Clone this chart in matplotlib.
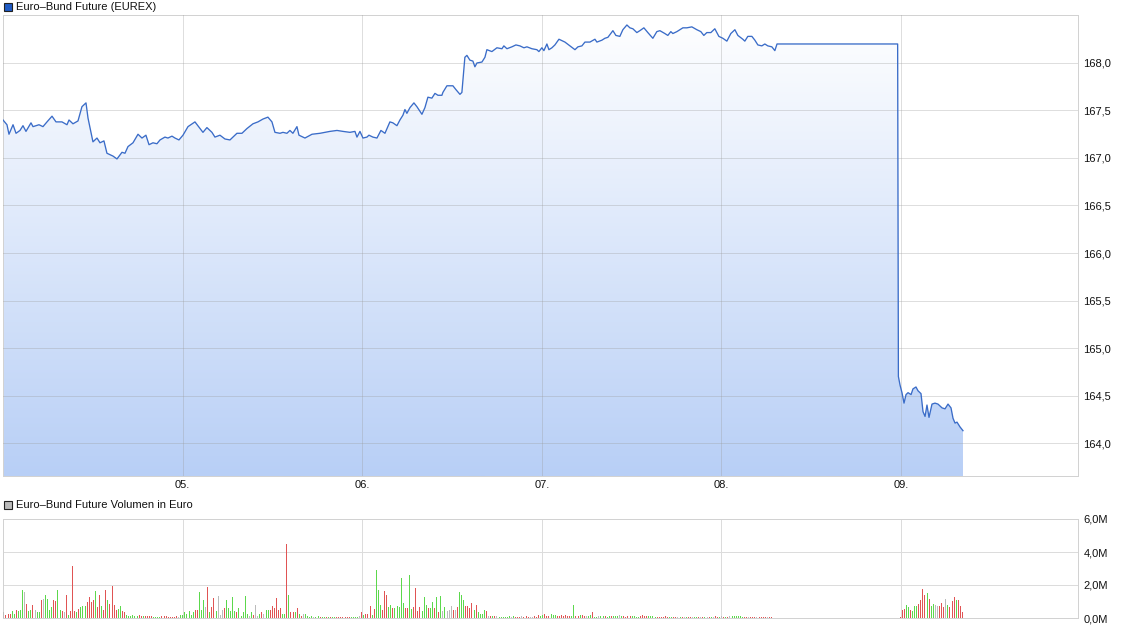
import numpy as np
import matplotlib
matplotlib.use('Agg')
import matplotlib.pyplot as plt
from matplotlib.colors import LinearSegmentedColormap
from matplotlib.patches import Rectangle

plt.rcParams['font.family'] = ['Liberation Sans', 'DejaVu Sans']

# Euro-Bund Future, hours since 04. 00:00
price_hours = [
    0.0, 0.53, 0.80, 1.34, 1.74, 2.27, 2.67, 3.07, 3.74, 4.01,
    4.81, 5.34, 5.88, 6.55, 7.08, 7.88, 8.55, 8.82, 9.35, 10.02,
    10.55, 11.09, 11.36, 12.02, 12.56, 12.96, 13.49, 13.89, 14.70, 15.23,
    15.90, 16.30, 16.70, 17.37, 18.04, 18.57, 19.10, 19.51, 20.04, 20.57,
    20.98, 21.64, 22.04, 22.58, 22.98, 23.51, 24.05, 24.72, 25.65, 26.32,
    26.72, 27.25, 27.92, 28.32, 28.99, 29.66, 30.33, 31.26, 31.93, 32.60,
    33.40, 34.07, 34.74, 35.40, 35.94, 36.34, 37.01, 37.41, 37.94, 38.34,
    38.74, 39.28, 39.55, 40.35, 41.29, 42.36, 43.02, 43.69, 44.63, 45.43,
    46.36, 47.03, 47.30, 47.70, 48.10, 48.63, 48.90, 49.43, 49.97, 50.50,
    51.04, 51.70, 52.10, 52.64, 53.04, 53.44, 53.71, 53.97, 54.38, 54.91,
    55.31, 55.98, 56.38, 56.78, 57.31, 57.72, 58.12, 58.65, 58.78, 59.32,
    60.12, 60.52, 61.06, 61.32, 61.72, 61.99, 62.39, 62.79, 63.06, 63.33,
    64.00, 64.40, 64.66, 65.33, 66.00, 66.67, 66.93, 67.34, 68.00, 68.54,
    69.07, 69.61, 70.01, 70.68, 71.34, 71.61, 72.01, 72.28, 72.68, 72.95,
    73.35, 73.75, 74.29, 75.09, 75.76, 76.43, 76.83, 77.36, 77.76, 78.43,
    79.10, 79.36, 80.03, 80.43, 80.83, 81.50, 81.90, 82.43, 82.83, 83.37,
    83.77, 84.17, 84.70, 85.10, 85.64, 86.17, 86.84, 87.37, 87.78, 88.44,
    88.84, 89.24, 89.51, 90.05, 90.85, 91.38, 92.05, 92.72, 93.25, 93.65,
    94.05, 94.59, 95.12, 95.66, 96.19, 96.73, 97.26, 97.80, 98.20, 98.86,
    99.13, 99.53, 100.07, 100.47, 100.87, 101.40, 101.80, 102.20, 102.74, 103.14,
    103.43, 119.55, 119.65, 119.87, 120.13, 120.40, 120.67, 120.94, 121.34, 121.60,
    122.00, 122.27, 122.67, 122.94, 123.21, 123.47, 123.74, 124.14, 124.54, 124.94,
    125.48, 125.88, 126.28, 126.68, 126.95, 127.22, 127.48, 127.88, 128.28,
]
price_values = [
    167.40, 167.35, 167.25, 167.35, 167.26, 167.29, 167.34, 167.28, 167.37, 167.33,
    167.35, 167.33, 167.38, 167.44, 167.38, 167.38, 167.35, 167.40, 167.36, 167.39,
    167.54, 167.58, 167.42, 167.17, 167.21, 167.16, 167.18, 167.05, 167.02, 166.99,
    167.06, 167.05, 167.12, 167.16, 167.25, 167.21, 167.24, 167.14, 167.16, 167.15,
    167.19, 167.22, 167.21, 167.23, 167.21, 167.19, 167.24, 167.33, 167.38, 167.31,
    167.27, 167.32, 167.27, 167.22, 167.24, 167.20, 167.19, 167.26, 167.26, 167.31,
    167.36, 167.38, 167.41, 167.43, 167.38, 167.27, 167.26, 167.27, 167.26, 167.29,
    167.26, 167.33, 167.24, 167.21, 167.25, 167.26, 167.27, 167.28, 167.29, 167.28,
    167.27, 167.28, 167.22, 167.28, 167.21, 167.22, 167.24, 167.22, 167.21, 167.29,
    167.26, 167.38, 167.37, 167.34, 167.40, 167.45, 167.51, 167.47, 167.53, 167.58,
    167.54, 167.46, 167.53, 167.64, 167.63, 167.68, 167.66, 167.66, 167.69, 167.76,
    167.76, 167.72, 167.67, 167.69, 168.06, 168.08, 168.03, 168.02, 167.96, 168.00,
    168.01, 168.06, 168.14, 168.12, 168.16, 168.15, 168.18, 168.15, 168.17, 168.19,
    168.18, 168.16, 168.17, 168.15, 168.14, 168.12, 168.16, 168.13, 168.20, 168.14,
    168.16, 168.19, 168.25, 168.22, 168.18, 168.14, 168.17, 168.18, 168.22, 168.22,
    168.25, 168.22, 168.24, 168.26, 168.27, 168.34, 168.29, 168.28, 168.35, 168.40,
    168.37, 168.36, 168.32, 168.34, 168.37, 168.32, 168.26, 168.33, 168.34, 168.31,
    168.29, 168.33, 168.31, 168.33, 168.37, 168.37, 168.38, 168.35, 168.33, 168.29,
    168.32, 168.32, 168.36, 168.28, 168.26, 168.23, 168.31, 168.35, 168.29, 168.25,
    168.23, 168.28, 168.28, 168.24, 168.19, 168.18, 168.20, 168.18, 168.17, 168.13,
    168.20, 168.20, 164.70, 164.61, 164.53, 164.42, 164.51, 164.53, 164.51, 164.57,
    164.59, 164.55, 164.52, 164.33, 164.28, 164.40, 164.27, 164.41, 164.42, 164.41,
    164.37, 164.36, 164.41, 164.37, 164.26, 164.21, 164.22, 164.17, 164.13,
]

day_ticks = [24, 48, 72, 96, 120]
day_labels = ['05.', '06.', '07.', '08.', '09.']
price_ticks = [164.0, 164.5, 165.0, 165.5, 166.0, 166.5, 167.0, 167.5, 168.0]
vol_ticks = [0, 2, 4, 6]

# volume in Mio. Euro, direction: u = up, r = down, s = unchanged
vol_a = [
    0.34, 0.2, 0.26, 0.26, 0.4, 0.26, 0.5, 0.4, 0.46, 1.72,
    1.6, 0.87, 0.4, 0.46, 0.8, 0.5, 0.34, 0.34, 1.1, 1.17,
    1.41, 1.17, 0.46, 0.65, 1.1, 1.05, 1.72, 0.46, 0.4, 0.34,
    1.41, 0.2, 0.4, 3.13, 0.4, 0.34, 0.57, 0.65, 0.75, 0.75,
    0.95, 1.25, 1.0, 1.07, 1.66, 0.65, 1.41, 0.75, 0.5, 1.72,
    1.07, 0.87, 1.92, 0.8, 0.5, 0.57, 0.75, 0.44, 0.34, 0.2,
    0.14, 0.14, 0.2, 0.14, 0.14, 0.2, 0.1, 0.1, 0.1, 0.1,
    0.1, 0.1, 0.06, 0.06, 0.06, 0.06, 0.1, 0.1, 0.1, 0.06,
    0.06, 0.06, 0.06, 0.1, 0.06, 0.2, 0.2, 0.34, 0.26,
    0.4, 0.2, 0.34, 0.46, 0.46, 1.55, 0.46, 1.07, 0.65, 1.86,
    0.34, 0.65, 1.21, 0.4, 1.31, 0.2, 0.5, 0.59, 1.07, 0.6,
    0.4, 1.25, 0.4, 0.34, 0.59, 0.14, 0.34, 1.35, 0.26, 0.14,
    0.34, 0.2, 0.8, 0.1, 0.26, 0.38, 0.26, 0.5, 0.5, 0.5,
    0.7, 0.59, 1.19, 0.46, 0.59, 0.26, 0.26, 4.5, 1.41, 0.38,
    0.38, 0.34, 0.59, 0.26, 0.14, 0.26, 0.26, 0.1, 0.06, 0.1,
    0.06, 0.06, 0.1, 0.06, 0.06, 0.06, 0.06, 0.06, 0.06, 0.06,
    0.06, 0.06, 0.06, 0.06, 0.06, 0.06, 0.06, 0.06, 0.06, 0.06,
    0.06, 0.06, 0.1, 0.34, 0.2, 0.26, 0.26, 0.75, 0.2, 0.55,
    2.93, 1.68, 0.8, 0.46, 1.62, 1.41, 0.67, 0.8, 0.6, 0.6,
    0.75, 0.67,
    2.4, 0.9, 0.6, 0.6, 2.6, 0.55, 0.65, 1.8, 0.4, 0.65,
    0.4, 1.25, 0.8, 0.6, 0.6, 0.95, 0.6, 1.25, 0.34, 1.31,
    0.4, 0.65, 0.4, 0.46, 0.75, 0.46, 0.5, 0.65, 1.6, 1.37,
    1.07, 0.7, 0.7, 0.6, 0.88, 0.46, 0.8, 0.34, 0.26, 0.26,
    0.46, 0.4, 0.14, 0.1, 0.1, 0.1, 0.1, 0.06, 0.06, 0.06,
    0.06, 0.06, 0.1, 0.06, 0.1, 0.06, 0.06, 0.06, 0.1, 0.06,
    0.1, 0.06, 0.06, 0.06, 0.1, 0.06, 0.2, 0.14, 0.2, 0.26,
    0.14, 0.1, 0.26, 0.2, 0.2, 0.14, 0.14, 0.2, 0.14, 0.2,
    0.14, 0.1, 0.14, 0.8, 0.1, 0.14, 0.2, 0.2, 0.14, 0.1,
    0.1, 0.2, 0.38, 0.06, 0.06, 0.1, 0.14, 0.14, 0.14, 0.06,
    0.1, 0.1, 0.1, 0.1, 0.1, 0.2, 0.14, 0.1, 0.06, 0.1,
    0.1, 0.1, 0.14, 0.06, 0.06, 0.1, 0.2, 0.14, 0.1, 0.1,
    0.1, 0.1, 0.06, 0.06, 0.06, 0.06, 0.06, 0.1, 0.06, 0.06,
    0.06, 0.06,
    0.06, 0.06, 0.06, 0.06, 0.06, 0.06, 0.06, 0.06, 0.06, 0.06,
    0.06, 0.06, 0.06, 0.06, 0.06, 0.06, 0.06,
    0.06, 0.06, 0.1, 0.06, 0.06, 0.1, 0.06, 0.06, 0.06, 0.1,
    0.1, 0.1, 0.1, 0.14, 0.1, 0.06,
    0.06, 0.06, 0.06, 0.06, 0.06, 0.06, 0.06, 0.06, 0.06, 0.06,
    0.06, 0.06, 0.06, 0.06,
]
dir_a = (
    "srrruuruuu" "sruursuurs" "uuuurruurs" "rurrruruuu" "rrrrurrurr"
    "urrrruurru" "uuuuurrurr" "rruuuurrrr" "rrrrsuuuu"
    "uuurruuusr" "urrusssruu" "uuuruuuuus" "urssursuur" "rrrrruurur"
    "rurursuuuu" "suuruururu" "urrrrrrruu" "uusrurrrur" "uuurrruuru" "uu"
    "uurruurrrr" "uuuruururu" "susssrsruu" "urrrruruuu" "ursrursuuu"
    "uuusurrrsr" "rrssrrruur" "rruuurrrrr" "rruurrurrs" "uuruusuuru"
    "uruuusurrr" "ruuuurrrru" "uuurrrrrru" "ur"
    "rsursurrsuursrusr" "usrrusrurs" "uuuuuu" "rrsrrrsrrrrsrr"
)
vol_b = [
    0.04, 0.46, 0.57, 0.8, 0.65, 0.5, 0.44, 0.75, 0.75, 0.87,
    1.11, 1.78, 1.41, 1.52, 1.17, 0.75, 0.87, 0.8, 0.75, 0.75,
    0.91, 0.65, 1.15, 0.8, 0.65, 1.01, 1.25, 1.11, 1.07, 0.75, 0.34,
]
dir_b = "rrruuruuur" "rrruruussr" "rrsurrrurrr"

VOL_STEP = 0.278   # hours between volume bars
vol_a_start = 0.05
vol_b_start = 119.8

LINE = '#3a6cc8'
BAR_COLORS = {'u': '#5cd84c', 'r': '#e05454', 's': '#bbbbbb'}
GRID = '#dcdcdc'
FRAME = '#d2d2d2'
PX = 72 / 100  # one pixel in points

W, H = 1125, 630
fig = plt.figure(figsize=(W / 100, H / 100), dpi=100)
ax = fig.add_axes([3 / W, 1 - 476 / H, 1075 / W, 461 / H])
axv = fig.add_axes([3 / W, 1 - 618 / H, 1075 / W, 99 / H])

xmin, xmax = 0, 143.65
ymin, ymax = 163.653, 168.505

# price area with vertical gradient
poly = ax.fill_between(price_hours, price_values, ymin, facecolor='none', lw=0)
grad = np.linspace(0, 1, 256).reshape(-1, 1)
cmap = LinearSegmentedColormap.from_list('bund', ['#b8cff6', '#ffffff'])
im = ax.imshow(grad, extent=[xmin, xmax, ymin, ymax], origin='lower',
               aspect='auto', cmap=cmap, zorder=1, interpolation='bilinear')
im.set_clip_path(poly.get_paths()[0], transform=ax.transData)
ax.plot(price_hours, price_values, color=LINE, lw=0.95, zorder=3)

ax.set_xlim(xmin, xmax)
ax.set_ylim(ymin, ymax)
ax.set_xticks(day_ticks)
ax.set_xticklabels(day_labels)
ax.set_yticks(price_ticks)
ax.set_yticklabels([f'{v:.1f}'.replace('.', ',') for v in price_ticks])
ax.yaxis.tick_right()
ax.set_axisbelow(False)
ax.grid(True, color='#9a9a9a', alpha=0.32, lw=PX, zorder=2, snap=True)
ax.tick_params(axis='both', length=0, labelsize=8, colors='#111111')
ax.tick_params(axis='y', pad=4)
ax.tick_params(axis='x', pad=3)
for s in ax.spines.values():
    s.set_color(FRAME)
    s.set_linewidth(PX)

# volume bars, one pixel wide
n_a = min(len(vol_a), len(dir_a))
t_a = vol_a_start + np.arange(n_a) * VOL_STEP
axv.vlines(t_a, 0, vol_a[:n_a], colors=[BAR_COLORS[c] for c in dir_a[:n_a]],
           lw=PX, antialiased=False, zorder=3)
n_b = min(len(vol_b), len(dir_b))
t_b = vol_b_start + np.arange(n_b) * VOL_STEP
axv.vlines(t_b, 0, vol_b[:n_b], colors=[BAR_COLORS[c] for c in dir_b[:n_b]],
           lw=PX, antialiased=False, zorder=3)

axv.set_xlim(xmin, xmax)
axv.set_ylim(0, 6)
axv.set_xticks(day_ticks)
axv.set_xticklabels([])
axv.set_yticks(vol_ticks)
axv.set_yticklabels([f'{v:.1f}M'.replace('.', ',') for v in vol_ticks])
axv.yaxis.tick_right()
axv.grid(True, color=GRID, lw=PX, snap=True)
axv.set_axisbelow(True)
axv.tick_params(axis='both', length=0, labelsize=8, colors='#111111')
axv.tick_params(axis='y', pad=4)
for s in axv.spines.values():
    s.set_color(FRAME)
    s.set_linewidth(PX)

# legend boxes
fig.add_artist(Rectangle((4 / W, 1 - 11 / H), 8 / W, 8 / H, transform=fig.transFigure,
                         facecolor='#1f5bc4', edgecolor='#222222', lw=0.8))
fig.text(16 / W, 1 - 6.5 / H, 'Euro–Bund Future (EUREX)', fontsize=8, va='center', color='#111111')
fig.add_artist(Rectangle((4 / W, 1 - 509 / H), 8 / W, 8 / H, transform=fig.transFigure,
                         facecolor='#bbbbbb', edgecolor='#222222', lw=0.8))
fig.text(16 / W, 1 - 505 / H, 'Euro–Bund Future Volumen in Euro', fontsize=8, va='center', color='#111111')

fig.savefig('out.png', dpi=100)
plt.close(fig)
